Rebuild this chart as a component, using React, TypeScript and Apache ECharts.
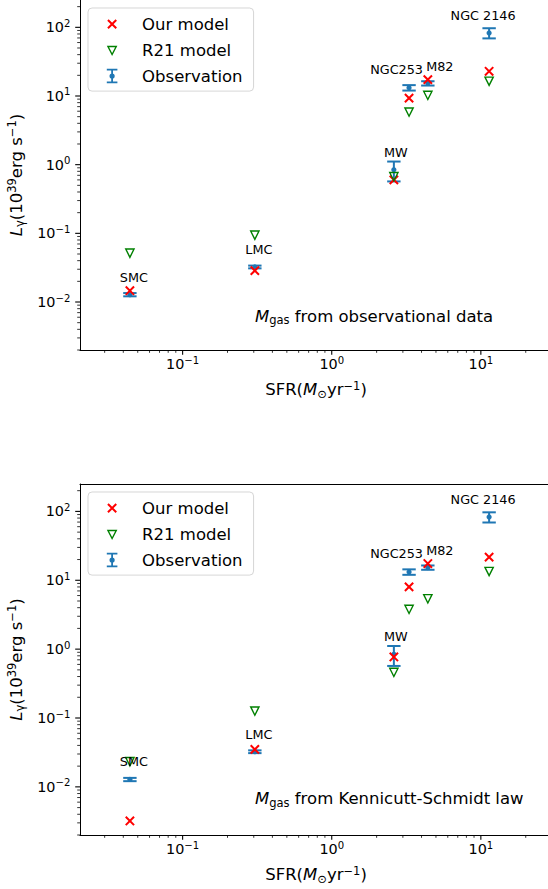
import React, { useEffect, useRef } from 'react';
import * as echarts from 'echarts';

// ---------------- data ----------------
const GALAXIES = ['SMC', 'LMC', 'MW', 'NGC253', 'M82', 'NGC 2146'];
const SFR = [0.0443, 0.305, 2.61, 3.3, 4.41, 11.36];
const OBS_L = [0.0128, 0.0324, 0.84, 13.2, 15.3, 83];
const OBS_ERR = [0.0007, 0.0015, 0.27, 1.2, 1.1, 14];
// panel 1: M_gas from observational data
const OUR_OBSGAS = [0.0146, 0.0286, 0.6, 9.3, 17.3, 22.9];
const R21_OBSGAS = [0.0514, 0.094, 0.67, 5.83, 10.2, 16.4];
// panel 2: M_gas from Kennicutt-Schmidt law
const OUR_KS = [0.0032, 0.035, 0.77, 8.03, 17.5, 21.7];
const R21_KS = [0.0232, 0.126, 0.46, 3.78, 5.38, 13.4];

const X_RANGE = [0.0205, 30];
const Y_RANGE = [0.002, 250];
const X_DECADES = [-1, 0, 1];
const Y_DECADES = [-2, -1, 0, 1, 2];
const PANEL_NOTES = ['from observational data', 'from Kennicutt-Schmidt law'];
const LEGEND_NAMES = ['Our model', 'R21 model', 'Observation'];

// ---------------- styling ----------------
const FONT = 'DejaVu Sans';
const RED = '#ff0000';
const GREEN = '#008000';
const BLUE = '#1f77b4';
const LABEL_OFFSETS = [[4, -17.5], [4, -17.5], [2, -17.5], [-12.5, -18], [12, -17], [-6, -17.5]];

const X_SYMBOL = 'path://M0,0L10,10M0,10L10,0';
const TRI_SYMBOL = 'path://M0,0L10,0L5,10Z';
const BOX = 'M0,0M41.5,17';
const LEG_X = 'path://' + BOX + 'M12.35,4.35L20.65,12.65M12.35,12.65L20.65,4.35';
const LEG_TRI = 'path://' + BOX + 'M12.35,4.5L20.65,4.5L16.5,12.5Z';
const LEG_ERR =
  'path://' + BOX +
  'M11.2,1.2H21.8V3H11.2ZM15.6,1.2H17.4V15.8H15.6ZM11.2,14H21.8V15.8H11.2Z' +
  'M19.1,8.5A2.6,2.6,0,1,1,13.9,8.5A2.6,2.6,0,1,1,19.1,8.5Z';

const GRIDS = [
  { left: 80, top: 0, width: 472, height: 350 },
  { left: 80, top: 484, width: 472, height: 351 },
];

const nameRich = {
  n: { fontSize: 16.5, lineHeight: 20, color: '#000', fontFamily: FONT },
  i: { fontSize: 16.5, lineHeight: 20, color: '#000', fontFamily: FONT, fontStyle: 'italic' },
  sub: { fontSize: 11.5, lineHeight: 9, color: '#000', fontFamily: FONT, verticalAlign: 'bottom' },
  sup: { fontSize: 11.5, lineHeight: 8.2, color: '#000', fontFamily: FONT, verticalAlign: 'top' },
};

const tickRich = {
  b: { fontSize: 14.4, lineHeight: 18, color: '#000', fontFamily: FONT },
  s: { fontSize: 10.1, lineHeight: 7.6, color: '#000', fontFamily: FONT, verticalAlign: 'top' },
};

function decadeFormatter(decades: number[]) {
  return (v: number) => {
    const e = Math.log10(v);
    const r = Math.round(e);
    if (Math.abs(e - r) > 1e-6 || !decades.includes(r)) return '';
    return `{b|10}{s|${r < 0 ? '\u2212' + -r : r}}`;
  };
}

function tickValues(range: number[], decades: number[]) {
  const out: number[][] = [];
  const lo = Math.floor(Math.log10(range[0]));
  const hi = Math.ceil(Math.log10(range[1]));
  for (let e = lo; e <= hi; e++) {
    for (let m = 1; m <= 9; m++) {
      const v = m * Math.pow(10, e);
      if (v < range[0] || v > range[1]) continue;
      out.push([v, m === 1 && decades.includes(e) ? 1 : 0]);
    }
  }
  return out;
}

function buildOption() {
  const xAxis: any[] = [];
  const yAxis: any[] = [];
  const series: any[] = [];
  const legend: any[] = [];
  const graphic: any[] = [];
  const models = [
    [OUR_OBSGAS, R21_OBSGAS],
    [OUR_KS, R21_KS],
  ];
  const xTicks = tickValues(X_RANGE, X_DECADES);
  const yTicks = tickValues(Y_RANGE, Y_DECADES);

  GRIDS.forEach((g, p) => {
    xAxis.push({
      type: 'log',
      gridIndex: p,
      min: X_RANGE[0],
      max: X_RANGE[1],
      logBase: 10,
      axisLine: { show: true, lineStyle: { color: '#000', width: 1 } },
      axisTick: { show: false },
      splitLine: { show: false },
      axisLabel: { interval: 0, margin: 5.2, formatter: decadeFormatter(X_DECADES), rich: tickRich },
      name: '{n|SFR(}{i|M}{sub|\u2299}{n|yr}{sup|\u22121}{n|)}',
      nameLocation: 'middle',
      nameGap: 29.5,
      nameTextStyle: { rich: nameRich },
    });
    yAxis.push({
      type: 'log',
      gridIndex: p,
      min: Y_RANGE[0],
      max: Y_RANGE[1],
      logBase: 10,
      axisLine: { show: true, lineStyle: { color: '#000', width: 1 } },
      axisTick: { show: false },
      splitLine: { show: false },
      axisLabel: { interval: 0, margin: 9.6, formatter: decadeFormatter(Y_DECADES), rich: tickRich },
      name: '{i|L}{sub|\u03b3}{n|(10}{sup|39}{n|erg s}{sup|\u22121}{n|)}',
      nameLocation: 'middle',
      nameGap: 48,
      nameRotate: 90,
      nameTextStyle: { rich: nameRich },
    });
  });
  // top spine of the lower panel
  xAxis.push({
    type: 'log',
    gridIndex: 1,
    position: 'top',
    min: X_RANGE[0],
    max: X_RANGE[1],
    axisLine: { show: true, lineStyle: { color: '#000', width: 1 } },
    axisTick: { show: false },
    axisLabel: { show: false },
    splitLine: { show: false },
  });

  GRIDS.forEach((g, p) => {
    const [our, r21] = models[p];
    series.push({
      type: 'scatter',
      name: 'Our model',
      xAxisIndex: p,
      yAxisIndex: p,
      symbol: X_SYMBOL,
      symbolSize: 8.3,
      itemStyle: { color: RED, borderColor: RED, borderWidth: 2, opacity: 1 },
      data: SFR.map((x, i) => [x, our[i]]),
      silent: true,
    });
    series.push({
      type: 'scatter',
      name: 'R21 model',
      xAxisIndex: p,
      yAxisIndex: p,
      symbol: TRI_SYMBOL,
      symbolSize: 8.3,
      itemStyle: { color: 'rgba(0,0,0,0)', borderColor: GREEN, borderWidth: 1.4, opacity: 1 },
      data: SFR.map((x, i) => [x, r21[i]]),
      silent: true,
    });
    series.push({
      type: 'custom',
      name: 'Observation',
      xAxisIndex: p,
      yAxisIndex: p,
      itemStyle: { color: BLUE },
      silent: true,
      data: SFR.map((x, i) => [x, OBS_L[i], OBS_ERR[i]]),
      renderItem: (params: any, api: any) => {
        const x = api.value(0);
        const y = api.value(1);
        const e = api.value(2);
        const c = api.coord([x, y]);
        const t = api.coord([x, y + e]);
        const b = api.coord([x, y - e]);
        const hw = 6.7;
        const st = { stroke: BLUE, lineWidth: 2 };
        return {
          type: 'group',
          children: [
            { type: 'line', shape: { x1: c[0], y1: t[1], x2: c[0], y2: b[1] }, style: st },
            { type: 'line', shape: { x1: c[0] - hw, y1: t[1], x2: c[0] + hw, y2: t[1] }, style: st },
            { type: 'line', shape: { x1: c[0] - hw, y1: b[1], x2: c[0] + hw, y2: b[1] }, style: st },
            { type: 'circle', shape: { cx: c[0], cy: c[1], r: 2.6 }, style: { fill: BLUE } },
          ],
        };
      },
    });
    series.push({
      type: 'scatter',
      name: 'galaxy-labels',
      xAxisIndex: p,
      yAxisIndex: p,
      symbolSize: 1,
      itemStyle: { color: 'rgba(0,0,0,0)', opacity: 1 },
      silent: true,
      z: 5,
      data: SFR.map((x, i) => ({
        value: [x, OBS_L[i]],
        name: GALAXIES[i],
        label: { offset: LABEL_OFFSETS[i] },
      })),
      label: {
        show: true,
        position: 'inside',
        formatter: '{b}',
        color: '#000',
        fontSize: 12.8,
        fontFamily: FONT,
        textBorderWidth: 0,
        textBorderColor: 'transparent',
      },
    });
    // axis ticks (major + minor, matplotlib style)
    series.push({
      type: 'custom',
      name: 'x-ticks',
      xAxisIndex: p,
      yAxisIndex: p,
      silent: true,
      clip: false,
      data: xTicks.map((t) => [t[0], Y_RANGE[0], t[1]]),
      renderItem: (params: any, api: any) => {
        const major = api.value(2) === 1;
        const pt = api.coord([api.value(0), Y_RANGE[0]]);
        const len = major ? 4.8 : 2.8;
        return {
          type: 'line',
          shape: { x1: pt[0], y1: pt[1], x2: pt[0], y2: pt[1] + len },
          style: { stroke: '#000', lineWidth: major ? 1.1 : 0.8 },
        };
      },
    });
    series.push({
      type: 'custom',
      name: 'y-ticks',
      xAxisIndex: p,
      yAxisIndex: p,
      silent: true,
      clip: false,
      data: yTicks.map((t) => [X_RANGE[0], t[0], t[1]]),
      renderItem: (params: any, api: any) => {
        const major = api.value(2) === 1;
        const pt = api.coord([X_RANGE[0], api.value(1)]);
        const len = major ? 4.8 : 2.8;
        return {
          type: 'line',
          shape: { x1: pt[0] - len, y1: pt[1], x2: pt[0], y2: pt[1] },
          style: { stroke: '#000', lineWidth: major ? 1.1 : 0.8 },
        };
      },
    });

    legend.push({
      orient: 'vertical',
      left: 88,
      top: g.top + 8,
      padding: [6.6, 11, 6.6, 6.6],
      itemWidth: 41.5,
      itemHeight: 17,
      itemGap: 7.75,
      selectedMode: false,
      backgroundColor: 'rgba(255,255,255,0.8)',
      borderColor: 'rgba(204,204,204,0.8)',
      borderWidth: 1,
      borderRadius: 4,
      symbolKeepAspect: true,
      textStyle: { fontSize: 16.5, lineHeight: 17, color: '#000', fontFamily: FONT },
      data: [
        { name: LEGEND_NAMES[0], icon: LEG_X, itemStyle: { color: RED, borderColor: RED, borderWidth: 2, opacity: 1 } },
        { name: LEGEND_NAMES[1], icon: LEG_TRI, itemStyle: { color: 'rgba(0,0,0,0)', borderColor: GREEN, borderWidth: 1.4, opacity: 1 } },
        { name: LEGEND_NAMES[2], icon: LEG_ERR, itemStyle: { color: BLUE, borderWidth: 0, opacity: 1 } },
      ],
    });

    graphic.push({
      type: 'text',
      left: 255,
      top: g.top + g.height - 32.5 - (p === 1 ? 2.5 : 0) - 10,
      silent: true,
      style: {
        text: `{i|M}{sub|gas}{n| ${PANEL_NOTES[p]}}`,
        fill: '#000',
        fontSize: 16.5,
        fontFamily: FONT,
        rich: {
          n: { fontSize: 16.5, lineHeight: 20, fill: '#000', fontFamily: FONT },
          i: { fontSize: 16.5, lineHeight: 20, fill: '#000', fontFamily: FONT, fontStyle: 'italic' },
          sub: { fontSize: 11.5, lineHeight: 7, fill: '#000', fontFamily: FONT, verticalAlign: 'bottom' },
        },
      },
    });
  });

  return {
    animation: false,
    backgroundColor: '#fff',
    textStyle: { fontFamily: FONT },
    grid: GRIDS.map((g) => ({ ...g, containLabel: false, outerBoundsMode: 'none' })),
    xAxis,
    yAxis,
    legend,
    graphic,
    series,
  };
}

export default function App() {
  const ref = useRef<HTMLDivElement>(null);
  useEffect(() => {
    if (!ref.current) return;
    const chart = echarts.init(ref.current, null, { renderer: 'svg' });
    chart.setOption(buildOption() as any);
    return () => chart.dispose();
  }, []);
  return (
    <div
      ref={ref}
      style={{ position: 'absolute', left: 0, top: 0, width: 548, height: 889, background: '#fff' }}
    />
  );
}
